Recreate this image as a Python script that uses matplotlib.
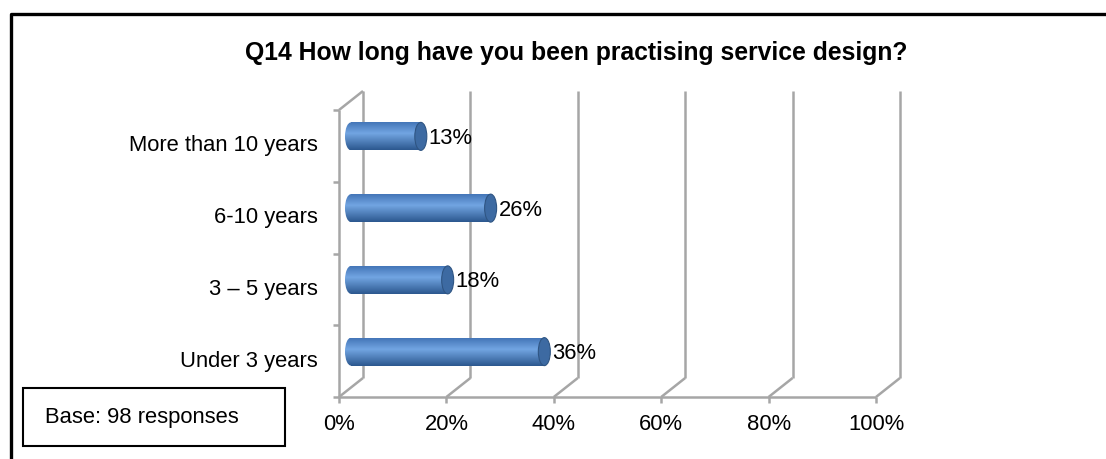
import numpy as np
import matplotlib.pyplot as plt
from matplotlib.patches import Ellipse, Rectangle
from matplotlib.lines import Line2D

plt.rcParams['font.family'] = ['Liberation Sans', 'DejaVu Sans']

categories = ["Under 3 years", "3 \u2013 5 years", "6-10 years", "More than 10 years"]
values = [36, 18, 26, 13]
xticks = [0, 20, 40, 60, 80, 100]
xticklabels = ["0%", "20%", "40%", "60%", "80%", "100%"]
title = "Q14 How long have you been practising service design?"
base_note = "Base: 98 responses"

W, H = 1106, 459
fig = plt.figure(figsize=(W / 100, H / 100), dpi=100)

# front plane of the 3-D box in pixels
px0, px1, py0, py1 = 339, 876, 397, 110
ax = fig.add_axes([px0 / W, 1 - py0 / H, (px1 - px0) / W, (py0 - py1) / H])
ax.set_xlim(0, 100)
ax.set_ylim(0, len(categories))
ax.axis('off')

sx = 100 / (px1 - px0)              # data per pixel, x
sy = len(categories) / (py0 - py1)  # data per pixel, y
dx, dy = 24 * sx, 19 * sy           # depth offset
grid = '#a6a6a6'
lw = 1.8
fs = 15.8

def line(xs, ys):
    ax.add_line(Line2D(xs, ys, color=grid, lw=lw, clip_on=False, solid_capstyle='butt'))

n = len(categories)
# back wall grid
for t in xticks:
    line([t + dx, t + dx], [dy, n + dy])
    line([t, t + dx], [0, dy])
    line([t, t], [0, -6 * sy])
# floor front edge, left wall
line([0, 100], [0, 0])
line([0, 0], [0, n])
line([0, dx], [n, n + dy])
for i in range(n + 1):
    line([0, -6 * sx], [i, i])

# cylinders
bh = 28 * sy
ew = 12 * sx
top = np.array([0x44, 0x76, 0xb8]) / 255
mid = np.array([0x72, 0xa5, 0xe2]) / 255
bot = np.array([0x2c, 0x58, 0x8f]) / 255
prof = []
for g in np.linspace(0, 1, 64):
    if g < 0.4:
        c = top + (mid - top) * (g / 0.4)
    else:
        c = mid + (bot - mid) * ((g - 0.4) / 0.6)
    prof.append(c)
img = np.array(prof)[:, None, :]

for i, v in enumerate(values):
    yc = i + 0.5 + dy / 2
    x0 = dx / 2
    x1 = x0 + v
    y0, y1 = yc - bh / 2, yc + bh / 2
    body = Rectangle((x0, y0), x1 - x0, bh, transform=ax.transData)
    left = Ellipse((x0, yc), ew, bh, transform=ax.transData)
    for clip in (body, left):
        im = ax.imshow(img, extent=[x0 - ew, x1, y0, y1], origin='upper',
                       aspect='auto', interpolation='bilinear', zorder=3)
        im.set_clip_path(clip)
    ax.add_patch(Ellipse((x1, yc), ew, bh, facecolor='#3d6aa2', edgecolor='#2f5583',
                         lw=0.8, zorder=4, clip_on=False))
    ax.text(x1 + ew / 2 + 2 * sx, yc - 2 * sy, f"{v}%", fontsize=fs, va='center',
            ha='left', zorder=5)

ax.set_xlim(0, 100)
ax.set_ylim(0, n)

# category labels and tick labels
for i, c in enumerate(categories):
    ax.text(-21 * sx, i + 0.5, c, fontsize=fs, ha='right', va='center')
for t, lab in zip(xticks, xticklabels):
    ax.text(t, -28 * sy, lab, fontsize=fs, ha='center', va='center')

fig.text(576 / W, 1 - 53 / H, title, fontsize=17.8, fontweight='bold',
         ha='center', va='center')

# base note box
fig.patches.append(Rectangle((23 / W, 1 - 446 / H), 262 / W, 58 / H, transform=fig.transFigure,
                             fill=False, edgecolor='black', lw=1.5))
fig.text(45 / W, 1 - 417 / H, base_note, fontsize=fs, ha='left', va='center')

# outer frame (left and top)
fig.lines.append(Line2D([11 / W, 11 / W, 1.0], [0, 1 - 14 / H, 1 - 14 / H],
                        transform=fig.transFigure, color='black', lw=2.4))

fig.savefig('out.png', dpi=100)
